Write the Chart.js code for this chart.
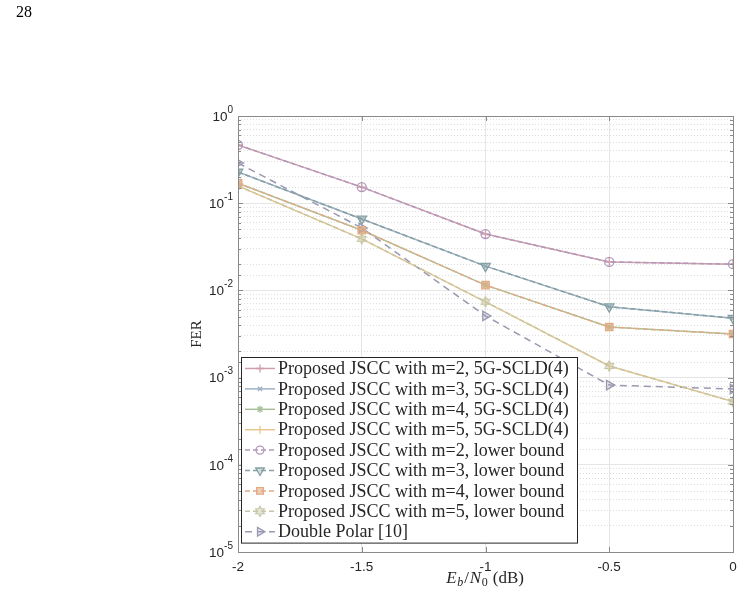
<!DOCTYPE html>
<html>
<head>
<meta charset="utf-8">
<script src="https://cdn.jsdelivr.net/npm/chart.js@4.4.1/dist/chart.umd.min.js"></script>
<style>
  html, body { margin: 0; padding: 0; background: #fff; }
</style>
</head>
<body>
<canvas id="fer" width="746" height="598"></canvas>
<script>
// valeurs
var ebn0 = [-2, -1.5, -1, -0.5, 0];
var xTickLabels = ['-2', '-1.5', '-1', '-0.5', '0'];
var yTickExponents = [0, -1, -2, -3, -4, -5];

var m2Scld = [0.465, 0.153, 0.0443, 0.0212, 0.0200];
var m3Scld = [0.228, 0.066, 0.0190, 0.0065, 0.0048];
var m4Scld = [0.170, 0.049, 0.0115, 0.0038, 0.00316];
var m5Scld = [0.158, 0.039, 0.0074, 0.00136, 0.00053];

var m2Lower = [0.465, 0.153, 0.0443, 0.0212, 0.0200];
var m3Lower = [0.228, 0.066, 0.0190, 0.0065, 0.0048];
var m4Lower = [0.170, 0.049, 0.0115, 0.0038, 0.00316];
var m5Lower = [0.158, 0.039, 0.0074, 0.00136, 0.00053];

var doublePolar = [0.289, 0.052, 0.0051, 0.00082, 0.00074];

var labels = [
  'Proposed JSCC with m=2, 5G-SCLD(4)',
  'Proposed JSCC with m=3, 5G-SCLD(4)',
  'Proposed JSCC with m=4, 5G-SCLD(4)',
  'Proposed JSCC with m=5, 5G-SCLD(4)',
  'Proposed JSCC with m=2, lower bound',
  'Proposed JSCC with m=3, lower bound',
  'Proposed JSCC with m=4, lower bound',
  'Proposed JSCC with m=5, lower bound',
  'Double Polar [10]'
];

// hexagramme (pas dispo dans chart.js)
function hexagram(r, stroke, fill) {
  var s = Math.ceil(2 * r + 4);
  var c = document.createElement('canvas');
  c.width = s; c.height = s;
  var g = c.getContext('2d');
  var cx = s / 2, cy = s / 2;
  g.beginPath();
  for (var k = 0; k < 12; k++) {
    var a = -Math.PI / 2 + k * Math.PI / 6;
    var rr = (k % 2 === 0) ? r : r / Math.sqrt(3);
    var px = cx + rr * Math.cos(a), py = cy + rr * Math.sin(a);
    if (k === 0) g.moveTo(px, py); else g.lineTo(px, py);
  }
  g.closePath();
  g.fillStyle = fill; g.fill();
  g.lineWidth = 1.2; g.strokeStyle = stroke; g.stroke();
  return c;
}

function serie(label, data, color, style, opts) {
  var d = {
    label: label,
    data: data,
    borderColor: color,
    borderWidth: 1.5,
    pointBorderColor: color,
    pointBackgroundColor: 'rgba(0,0,0,0)',
    pointBorderWidth: 1.3,
    pointStyle: style,
    pointRadius: 4.5,
    pointRotation: 0,
    fill: false,
    tension: 0
  };
  for (var k in opts) d[k] = opts[k];
  return d;
}

var dashLB = [5, 3];
var datasets = [
  serie(labels[0], m2Scld, '#cf9fab', 'cross', { order: 1 }),
  serie(labels[1], m3Scld, '#9db0c4', 'crossRot', { order: 1, pointRadius: 3.5 }),
  serie(labels[2], m4Scld, '#a9c09a', 'star', { order: 1, pointRadius: 4 }),
  serie(labels[3], m5Scld, '#e6c68c', 'line', { order: 1, pointRotation: 90 }),
  serie(labels[4], m2Lower, '#b398bb', 'circle', { order: 0, borderDash: dashLB, pointRadius: 4.5 }),
  serie(labels[5], m3Lower, '#86a1a4', 'triangle', { order: 0, borderDash: dashLB, pointRotation: 180, pointRadius: 5.5, pointBackgroundColor: 'rgba(134,161,164,0.35)' }),
  serie(labels[6], m4Lower, '#e4aa82', 'rect', { order: 0, borderDash: dashLB, pointRadius: 5.2, pointBackgroundColor: 'rgba(228,170,130,0.55)' }),
  serie(labels[7], m5Lower, '#c6c6a6', hexagram(5, '#c6c6a6', 'rgba(198,198,166,0.45)'), { order: 0, borderDash: dashLB }),
  serie(labels[8], doublePolar, '#9a99b2', 'triangle', { order: 0, borderDash: [7, 5], pointRotation: 90, pointRadius: 5.5, pointBackgroundColor: 'rgba(154,153,178,0.25)' })
];

function isMajor(v) {
  var e = Math.log10(v);
  return Math.abs(e - Math.round(e)) < 1e-6;
}

var axisGray = '#8a8a8a';
var txt = '#262626';

// dessin du cadre, ticks vers l'intérieur, labels 10^k, titres et légende
var decor = {
  id: 'decor',
  afterDraw: function (chart) {
    var ctx = chart.ctx, a = chart.chartArea;
    var xs = chart.scales.x, ys = chart.scales.y;
    ctx.save();

    // cadre
    ctx.strokeStyle = axisGray; ctx.lineWidth = 1;
    ctx.strokeRect(a.left + 0.5, a.top + 0.5, a.right - a.left, a.bottom - a.top);

    // ticks y
    ys.ticks.forEach(function (t) {
      var y = Math.round(ys.getPixelForValue(t.value)) + 0.5;
      var len = isMajor(t.value) ? 5 : 3;
      ctx.beginPath();
      ctx.moveTo(a.left, y); ctx.lineTo(a.left + len, y);
      ctx.moveTo(a.right, y); ctx.lineTo(a.right - len, y);
      ctx.stroke();
    });
    // ticks x
    xs.ticks.forEach(function (t) {
      var x = Math.round(xs.getPixelForValue(t.value)) + 0.5;
      ctx.beginPath();
      ctx.moveTo(x, a.bottom); ctx.lineTo(x, a.bottom - 5);
      ctx.moveTo(x, a.top); ctx.lineTo(x, a.top + 5);
      ctx.stroke();
    });

    // labels y avec exposant
    ctx.fillStyle = txt;
    ctx.textBaseline = 'middle';
    yTickExponents.forEach(function (e) {
      var y = ys.getPixelForValue(Math.pow(10, e));
      var sup = String(e);
      ctx.font = '10px "Liberation Sans", Arial, sans-serif';
      var ws = ctx.measureText(sup).width;
      var right = a.left - 5;
      ctx.textAlign = 'right';
      ctx.fillText(sup, right, y - 6);
      ctx.font = '13.5px "Liberation Sans", Arial, sans-serif';
      ctx.fillText('10', right - ws, y + 1);
    });

    // titre y
    ctx.font = '15px "Liberation Serif", "Times New Roman", serif';
    ctx.save();
    ctx.translate(197, (a.top + a.bottom) / 2);
    ctx.rotate(-Math.PI / 2);
    ctx.textAlign = 'center';
    ctx.fillText('FER', 0, 0);
    ctx.restore();

    // titre x : E_b/N_0 (dB)
    var parts = [
      { t: 'E', f: 'italic 17px "Liberation Serif", serif', dy: 0 },
      { t: 'b', f: 'italic 12px "Liberation Serif", serif', dy: 4 },
      { t: '/', f: '17px "Liberation Serif", serif', dy: 0 },
      { t: 'N', f: 'italic 17px "Liberation Serif", serif', dy: 0 },
      { t: '0', f: '12px "Liberation Serif", serif', dy: 4 },
      { t: ' (dB)', f: '17px "Liberation Serif", serif', dy: 0 }
    ];
    var total = 0;
    parts.forEach(function (p) { ctx.font = p.f; p.w = ctx.measureText(p.t).width + 0.8; total += p.w; });
    var x0 = (a.left + a.right) / 2 - total / 2;
    ctx.textAlign = 'left';
    parts.forEach(function (p) { ctx.font = p.f; ctx.fillText(p.t, x0, 579 + p.dy); x0 += p.w; });

    // numéro de page
    ctx.fillStyle = '#000';
    ctx.font = '16px "Liberation Serif", serif';
    ctx.fillText('28', 16, 13);

    // légende
    var bx = a.left + 3, by = 357, bw = 336, rowH = 20.4;
    var bh = rowH * datasets.length + 2;
    ctx.fillStyle = '#fff';
    ctx.fillRect(bx, by, bw, bh);
    ctx.strokeStyle = '#262626'; ctx.lineWidth = 1;
    ctx.strokeRect(bx + 0.5, by + 0.5, bw, bh);
    ctx.font = '18px "Liberation Serif", "Times New Roman", serif';
    datasets.forEach(function (d, i) {
      var y = by + 11.5 + i * rowH;
      ctx.save();
      ctx.strokeStyle = d.borderColor; ctx.lineWidth = d.borderWidth;
      ctx.setLineDash(d.borderDash || []);
      ctx.beginPath(); ctx.moveTo(bx + 4, y); ctx.lineTo(bx + 34, y); ctx.stroke();
      ctx.setLineDash([]);
      ctx.strokeStyle = d.pointBorderColor; ctx.fillStyle = d.pointBackgroundColor;
      ctx.lineWidth = d.pointBorderWidth;
      Chart.helpers.drawPoint(ctx, {
        pointStyle: d.pointStyle, rotation: d.pointRotation,
        radius: d.pointRadius - 0.5, borderWidth: d.pointBorderWidth
      }, bx + 19, y);
      ctx.restore();
      ctx.fillStyle = txt;
      ctx.textAlign = 'left';
      ctx.fillText(d.label, bx + 37, y + 1);
    });

    ctx.restore();
  }
};

var ctx = document.getElementById('fer');
new Chart(ctx, {
  type: 'line',
  data: {
    datasets: datasets.map(function (d) {
      var c = Object.assign({}, d);
      c.data = d.data.map(function (v, i) { return { x: ebn0[i], y: v }; });
      return c;
    })
  },
  options: {
    responsive: false,
    animation: false,
    layout: { padding: { left: 0, top: 116, right: 13, bottom: 0 } },
    plugins: { legend: { display: false }, tooltip: { enabled: false } },
    scales: {
      x: {
        type: 'linear',
        min: -2, max: 0,
        afterBuildTicks: function (axis) {
          axis.ticks = ebn0.map(function (v) { return { value: v }; });
        },
        afterFit: function (axis) { axis.height = 46; },
        grid: { color: '#e6e6e6', drawTicks: false },
        border: { display: false },
        ticks: {
          padding: 7,
          color: txt,
          font: { family: '"Liberation Sans", Arial, sans-serif', size: 13.5 },
          callback: function (v, i) { return xTickLabels[i]; }
        }
      },
      y: {
        type: 'logarithmic',
        min: 1e-5, max: 1,
        afterFit: function (axis) { axis.width = 238; },
        grid: {
          drawTicks: false,
          color: function (c) { return (c.tick && isMajor(c.tick.value)) ? '#e6e6e6' : '#dedede'; }
        },
        border: {
          display: false,
          dash: function (c) { return (c.tick && !isMajor(c.tick.value)) ? [1, 2] : []; }
        },
        ticks: { display: false, autoSkip: false }
      }
    }
  },
  plugins: [decor]
});
</script>
</body>
</html>
